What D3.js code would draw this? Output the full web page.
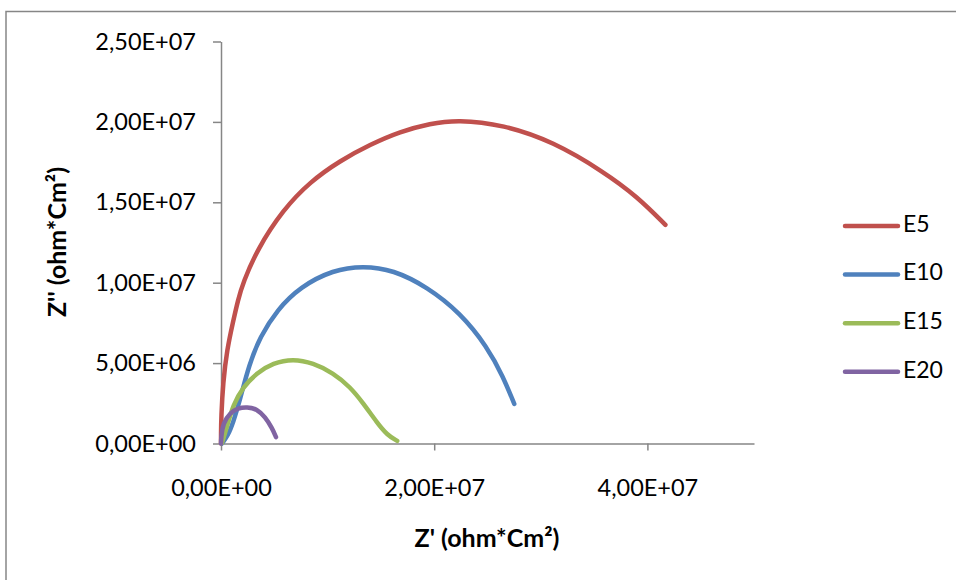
<!DOCTYPE html>
<html>
<head>
<meta charset="utf-8">
<script src="https://cdn.jsdelivr.net/npm/d3@7"></script>
<style>
  body { margin: 0; background: #fff; }
  svg { display: block; }
  text { font-family: Lato, "Open Sans", sans-serif; fill: #000; }
</style>
</head>
<body>
<div id="chart"></div>
<script>
// Nyquist data, Z' and Z'' in ohm*cm2
const seriesNames = ["E5", "E10", "E15", "E20"]
const seriesColors = ["#C0504D", "#4F81BD", "#9BBB59", "#8064A2"]

const e5Re = [0, 0, 0.02e6, 0.19e6, 0.56e6, 1.13e6, 1.6e6, 2.07e6, 3.38e6, 5.82e6, 8.36e6, 11.17e6, 13.99e6, 16.81e6, 19.62e6, 22.16e6, 26.48e6, 31.17e6, 35.87e6, 39.06e6, 41.69e6]
const e5Im = [0, 0.5e6, 1.65e6, 3.77e6, 5.82e6, 7.57e6, 8.94e6, 10.0e6, 12.05e6, 14.54e6, 16.28e6, 17.59e6, 18.59e6, 19.40e6, 19.89e6, 20.14e6, 19.83e6, 18.77e6, 16.91e6, 15.35e6, 13.6e6]

const e10Re = [0.1e6, 0.65e6, 1.13e6, 1.78e6, 2.63e6, 3.66e6, 5.26e6, 7.42e6, 10.52e6, 13.33e6, 16.15e6, 19.34e6, 22.44e6, 24.98e6, 26.48e6, 27.51e6]
const e10Im = [0.0, 0.5e6, 1.28e6, 2.71e6, 4.89e6, 6.63e6, 8.31e6, 9.74e6, 10.8e6, 11.05e6, 10.8e6, 9.74e6, 8.13e6, 6.01e6, 4.14e6, 2.46e6]

const e15Re = [0.09e6, 0.56e6, 1.13e6, 2.07e6, 3.38e6, 4.88e6, 6.76e6, 8.64e6, 10.52e6, 12.11e6, 13.33e6, 14.65e6, 15.59e6, 16.53e6]
const e15Im = [0.03e6, 1.03e6, 2.4e6, 3.52e6, 4.39e6, 5.01e6, 5.26e6, 5.01e6, 4.39e6, 3.52e6, 2.52e6, 1.28e6, 0.53e6, 0.16e6]

const e20Re = [0, 0.02e6, 0.19e6, 0.85e6, 1.6e6, 2.44e6, 3.38e6, 4.13e6, 4.79e6, 5.16e6]
const e20Im = [0, 0.4e6, 1.28e6, 1.9e6, 2.21e6, 2.27e6, 2.15e6, 1.65e6, 0.97e6, 0.4e6]

const xTicks = [0, 2e7, 4e7]
const yTicks = [0, 5e6, 1e7, 1.5e7, 2e7, 2.5e7]

const width = 956
const height = 580
const margin = { left: 221, right: 202, top: 41.5, bottom: 136.5 }

const svg = d3.select("#chart").append("svg")
  .attr("width", width)
  .attr("height", height)

// chart frame (only left and top edges show in the picture)
svg.append("rect")
  .attr("x", 6)
  .attr("y", 11.5)
  .attr("width", width + 20)
  .attr("height", height + 20)
  .attr("fill", "none")
  .attr("stroke", "#868686")
  .attr("stroke-width", 1.5)

const x = d3.scaleLinear().domain([0, 5e7]).range([margin.left, width - margin.right])
const y = d3.scaleLinear().domain([0, 2.5e7]).range([height - margin.bottom, margin.top])

function sci(v) {
  if (v === 0) return "0,00E+00"
  const e = Math.floor(Math.log10(Math.abs(v)))
  const m = v / Math.pow(10, e)
  return m.toFixed(2).replace(".", ",") + "E+" + String(e).padStart(2, "0")
}

// axes
const xAxis = svg.append("g")
  .attr("transform", `translate(0,${y(0)})`)
  .call(d3.axisBottom(x).tickValues(xTicks).tickSize(7).tickSizeOuter(0).tickFormat(sci))
xAxis.select(".domain").attr("stroke", "#868686").attr("stroke-width", 1.5)
xAxis.selectAll(".tick line").attr("stroke", "#868686").attr("stroke-width", 1.5)
xAxis.selectAll(".tick text")
  .attr("font-size", 23.5)
  .attr("font-family", "Lato, sans-serif")
  .attr("fill", "#000")
  .attr("y", 44)
  .attr("dy", "0.35em")

const yAxis = svg.append("g")
  .attr("transform", `translate(${x(0)},0)`)
  .call(d3.axisLeft(y).tickValues(yTicks).tickSize(8).tickSizeOuter(0).tickFormat(sci))
yAxis.select(".domain").attr("stroke", "#868686").attr("stroke-width", 1.5)
yAxis.selectAll(".tick line").attr("stroke", "#868686").attr("stroke-width", 1.5)
yAxis.selectAll(".tick text")
  .attr("font-size", 23.5)
  .attr("font-family", "Lato, sans-serif")
  .attr("fill", "#000")
  .attr("x", -25)

// axis titles
svg.append("text")
  .attr("x", 487)
  .attr("y", 541)
  .attr("text-anchor", "middle")
  .attr("dominant-baseline", "middle")
  .attr("font-size", 25)
  .attr("font-weight", "bold")
  .text("Z' (ohm*Cm²)")

svg.append("text")
  .attr("transform", `translate(60,242) rotate(-90)`)
  .attr("text-anchor", "middle")
  .attr("dominant-baseline", "middle")
  .attr("font-size", 25)
  .attr("font-weight", "bold")
  .text("Z'' (ohm*Cm²)")

// curves
const series = [
  { re: e5Re, im: e5Im },
  { re: e10Re, im: e10Im },
  { re: e15Re, im: e15Im },
  { re: e20Re, im: e20Im }
]

const line = d3.line()
  .x(d => x(d[0]))
  .y(d => y(d[1]))
  .curve(d3.curveBasis)

series.forEach((s, i) => {
  svg.append("path")
    .datum(d3.zip(s.re, s.im))
    .attr("d", line)
    .attr("fill", "none")
    .attr("stroke", seriesColors[i])
    .attr("stroke-width", 4.5)
    .attr("stroke-linecap", "round")
    .attr("stroke-linejoin", "round")
})

// legend
const legend = svg.append("g")
seriesNames.forEach((name, i) => {
  const ly = 226 + i * 48.6
  legend.append("line")
    .attr("x1", 845).attr("x2", 898)
    .attr("y1", ly).attr("y2", ly)
    .attr("stroke", seriesColors[i])
    .attr("stroke-width", 4.5)
    .attr("stroke-linecap", "round")
  legend.append("text")
    .attr("x", 903)
    .attr("y", ly)
    .attr("dominant-baseline", "middle")
    .attr("font-size", 23)
    .text(name)
})
</script>
</body>
</html>
